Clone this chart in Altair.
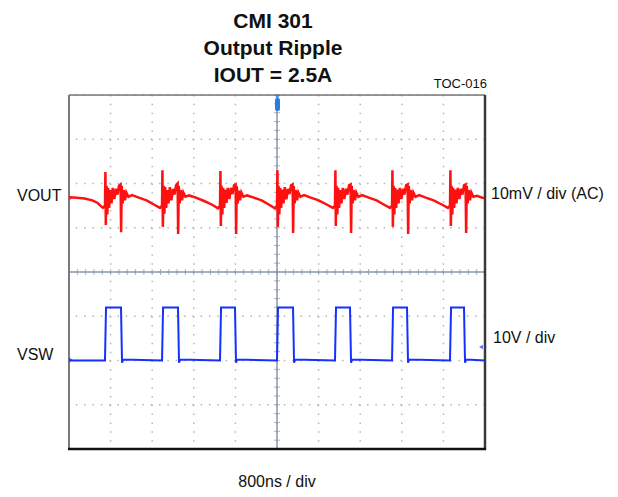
import altair as alt
import pandas as pd

# ---- data read from the scope capture (x: ns, y: divisions from centre) ----
vout = [
    (0, 1.69), (150, 1.68), (300, 1.66), (450, 1.62), (550, 1.56),
    (652, 1.45), (692, 1.50), (700, 2.26), (708, 1.06), (722, 1.95), (737, 1.30), (752, 1.90), (772, 1.45),
    (792, 1.85), (817, 1.55), (842, 1.90), (872, 1.65), (902, 1.88), (932, 1.75), (962, 1.95), (992, 1.98),
    (1002, 0.90), (1014, 1.95), (1032, 1.55), (1052, 1.85), (1077, 1.62), (1102, 1.80), (1142, 1.70),
    (1212, 1.74), (1342, 1.68), (1492, 1.62), (1639, 1.52),
    (1749, 1.45), (1789, 1.50), (1797, 2.30), (1805, 1.02), (1819, 1.95), (1834, 1.32), (1849, 1.92), (1869, 1.45),
    (1889, 1.85), (1914, 1.55), (1939, 1.92), (1969, 1.62), (1999, 1.88), (2029, 1.75), (2059, 1.96), (2089, 2.00),
    (2099, 0.86), (2111, 1.95), (2129, 1.55), (2149, 1.85), (2174, 1.62), (2199, 1.80), (2239, 1.70),
    (2309, 1.73), (2439, 1.68), (2589, 1.61), (2754, 1.52),
    (2864, 1.44), (2904, 1.50), (2912, 2.28), (2920, 1.04), (2934, 1.95), (2949, 1.30), (2964, 1.90), (2984, 1.45),
    (3004, 1.86), (3029, 1.56), (3054, 1.90), (3084, 1.65), (3114, 1.90), (3144, 1.76), (3174, 1.96), (3204, 1.98),
    (3214, 0.86), (3226, 1.94), (3244, 1.55), (3264, 1.84), (3289, 1.62), (3314, 1.80), (3354, 1.70),
    (3424, 1.73), (3554, 1.68), (3704, 1.62), (3850, 1.52),
    (3960, 1.44), (4000, 1.50), (4008, 2.30), (4016, 1.02), (4030, 1.95), (4045, 1.30), (4060, 1.90), (4080, 1.45),
    (4100, 1.86), (4125, 1.55), (4150, 1.92), (4180, 1.64), (4210, 1.88), (4240, 1.76), (4270, 1.96), (4300, 1.98),
    (4310, 0.88), (4322, 1.94), (4340, 1.55), (4360, 1.85), (4385, 1.62), (4410, 1.80), (4450, 1.70),
    (4520, 1.74), (4650, 1.68), (4800, 1.62), (4965, 1.52),
    (5075, 1.45), (5115, 1.50), (5123, 2.30), (5131, 1.04), (5145, 1.95), (5160, 1.30), (5175, 1.90), (5195, 1.45),
    (5215, 1.85), (5240, 1.55), (5265, 1.90), (5295, 1.65), (5325, 1.88), (5355, 1.75), (5385, 1.96), (5415, 1.98),
    (5425, 0.88), (5437, 1.95), (5455, 1.55), (5475, 1.85), (5500, 1.62), (5525, 1.80), (5565, 1.70),
    (5635, 1.74), (5765, 1.68), (5915, 1.62), (6062, 1.52),
    (6172, 1.45), (6212, 1.50), (6220, 2.30), (6228, 1.02), (6242, 1.95), (6257, 1.30), (6272, 1.90), (6292, 1.45),
    (6312, 1.86), (6337, 1.55), (6362, 1.90), (6392, 1.65), (6422, 1.88), (6452, 1.75), (6482, 1.96), (6512, 1.98),
    (6522, 0.86), (6534, 1.95), (6552, 1.55), (6572, 1.85), (6597, 1.62), (6622, 1.80), (6662, 1.70),
    (6732, 1.74), (6862, 1.68), (7012, 1.62), (7177, 1.52),
    (7287, 1.45), (7327, 1.50), (7335, 2.30), (7343, 1.04), (7357, 1.95), (7372, 1.30), (7387, 1.90), (7407, 1.45),
    (7427, 1.86), (7452, 1.55), (7477, 1.90), (7507, 1.65), (7537, 1.88), (7567, 1.75), (7597, 1.96), (7627, 1.98),
    (7637, 0.88), (7649, 1.95), (7667, 1.55), (7687, 1.85), (7712, 1.62), (7737, 1.80), (7777, 1.70),
    (7847, 1.72), (7950, 1.68), (8000, 1.67),
]

vsw = [
    (0, -2.00), (692, -2.00), (712, -0.80), (1000, -0.80), (1020, -2.05), (1040, -1.98),
    (1789, -2.00), (1809, -0.80), (2096, -0.80), (2116, -2.05), (2136, -1.98),
    (2904, -2.00), (2924, -0.80), (3192, -0.80), (3212, -2.05), (3232, -1.98),
    (4000, -2.00), (4020, -0.80), (4308, -0.80), (4328, -2.05), (4348, -1.98),
    (5115, -2.00), (5135, -0.80), (5404, -0.80), (5424, -2.05), (5444, -1.98),
    (6212, -2.00), (6232, -0.80), (6500, -0.80), (6520, -2.05), (6540, -1.98),
    (7327, -2.00), (7347, -0.80), (7596, -0.80), (7616, -2.05), (7636, -1.98),
    (8000, -2.00),
]

x_divs = [0, 800, 1600, 2400, 3200, 4000, 4800, 5600, 6400, 7200, 8000]
y_divs = [-4, -3, -2, -1, 0, 1, 2, 3, 4]
x_minor = [i * 160 for i in range(51)]
y_minor = [i * 0.2 - 4 for i in range(41)]

title_lines = ["CMI  301", "Output Ripple", "IOUT = 2.5A"]

W, H = 416, 354
FONT = "Liberation Sans, Arial, sans-serif"

xs = alt.Scale(domain=[0, 8000], nice=False, zero=False)
ys = alt.Scale(domain=[-4, 4], nice=False, zero=False)

df_vout = pd.DataFrame(vout, columns=["t", "v"])
df_vsw = pd.DataFrame(vsw, columns=["t", "v"])

grid_x = alt.Chart(pd.DataFrame({"t": x_divs})).mark_rule(
    color="#b5b5b5", strokeWidth=1.5, strokeDash=[1.5, 7.35]
).encode(x=alt.X("t:Q", scale=xs, axis=None))

grid_y = alt.Chart(pd.DataFrame({"v": y_divs})).mark_rule(
    color="#b5b5b5", strokeWidth=1.5, strokeDash=[1.5, 6.82]
).encode(y=alt.Y("v:Q", scale=ys, axis=None))

center_h = alt.Chart(pd.DataFrame({"v": [0]})).mark_rule(
    color="#8a96aa", strokeWidth=1.5
).encode(y=alt.Y("v:Q", scale=ys, axis=None))

center_v = alt.Chart(pd.DataFrame({"t": [4000]})).mark_rule(
    color="#8a96aa", strokeWidth=1.5
).encode(x=alt.X("t:Q", scale=xs, axis=None))

ticks_h = alt.Chart(pd.DataFrame({"t": x_minor, "v": [0] * len(x_minor)})).mark_tick(
    color="#8a96aa", size=6, thickness=1
).encode(x=alt.X("t:Q", scale=xs, axis=None), y=alt.Y("v:Q", scale=ys, axis=None))

ticks_v = alt.Chart(pd.DataFrame({"v": y_minor, "t": [4000] * len(y_minor)})).mark_tick(
    color="#8a96aa", size=6, thickness=1, orient="horizontal"
).encode(x=alt.X("t:Q", scale=xs, axis=None), y=alt.Y("v:Q", scale=ys, axis=None))

line_vout = alt.Chart(df_vout).mark_line(color="#ff1010", strokeWidth=2.5).encode(
    x=alt.X("t:Q", scale=xs, axis=None), y=alt.Y("v:Q", scale=ys, axis=None), order="t:Q"
)
line_vsw = alt.Chart(df_vsw).mark_line(color="#1530ff", strokeWidth=2).encode(
    x=alt.X("t:Q", scale=xs, axis=None), y=alt.Y("v:Q", scale=ys, axis=None), order="t:Q"
)

# frame
frame_left = alt.Chart().mark_rule(color="#7a7a7a", strokeWidth=2).encode(
    x=alt.value(0), y=alt.value(0), y2=alt.value(H))
frame_top = alt.Chart().mark_rule(color="#7a7a7a", strokeWidth=1.5).encode(
    x=alt.value(0), x2=alt.value(W), y=alt.value(0))
frame_right = alt.Chart().mark_rule(color="#3a3a3a", strokeWidth=2.5).encode(
    x=alt.value(W), y=alt.value(0), y2=alt.value(H + 1))
frame_bottom = alt.Chart().mark_rule(color="#111111", strokeWidth=2.5).encode(
    x=alt.value(-1), x2=alt.value(W + 1), y=alt.value(H))

# trigger marker
trig = alt.Chart().mark_bar(color="#2a7de1", cornerRadius=2).encode(
    x=alt.value(206), x2=alt.value(211), y=alt.value(3), y2=alt.value(16))
trig_top = alt.Chart().mark_point(shape="triangle-down", filled=True, color="#2a7de1", size=30).encode(
    x=alt.value(208.5), y=alt.value(2))

# channel markers
mk_red = alt.Chart().mark_point(shape="triangle-right", filled=True, color="#ff1010", size=25).encode(
    x=alt.value(2), y=alt.value(103))
mk_blue = alt.Chart().mark_point(shape="triangle-right", filled=True, color="#1530ff", size=25).encode(
    x=alt.value(2), y=alt.value(265))
mk_blue_r = alt.Chart().mark_point(shape="triangle-left", filled=True, color="#1530ff", size=20).encode(
    x=alt.value(W - 4), y=alt.value(252))

def label(txt, x, y, align="left", size=16, bold=False, baseline="middle"):
    return alt.Chart(pd.DataFrame({"s": [txt]})).mark_text(
        align=align, baseline=baseline, font=FONT, fontSize=size,
        fontWeight="bold" if bold else "normal", color="#111111"
    ).encode(text="s:N", x=alt.value(x), y=alt.value(y))

titles = [label(s, 204, b, align="center", size=21, bold=True, baseline="alphabetic")
          for s, b in zip(title_lines, [-67, -40, -13])]

texts = [
    label("VOUT", -52, 101),
    label("VSW", -52, 260),
    label("10mV / div (AC)", 422, 99),
    label("10V / div", 424, 243),
    label("800ns / div", 208, 392, align="center", baseline="alphabetic"),
    label("TOC-016", 418, -11, align="right", size=13),
]

chart = alt.layer(
    grid_x, grid_y, center_h, center_v, ticks_h, ticks_v,
    line_vout, line_vsw,
    frame_left, frame_top, frame_right, frame_bottom,
    trig, trig_top, mk_red, mk_blue, mk_blue_r,
    *titles, *texts,
).properties(
    width=W, height=H,
    autosize=alt.AutoSizeParams(type="none"),
    padding={"left": 61, "top": 87, "right": 124, "bottom": 40},
).configure_view(stroke=None).configure(background="white")

chart.save("out.html", embed_options={"renderer": "svg", "actions": False})
